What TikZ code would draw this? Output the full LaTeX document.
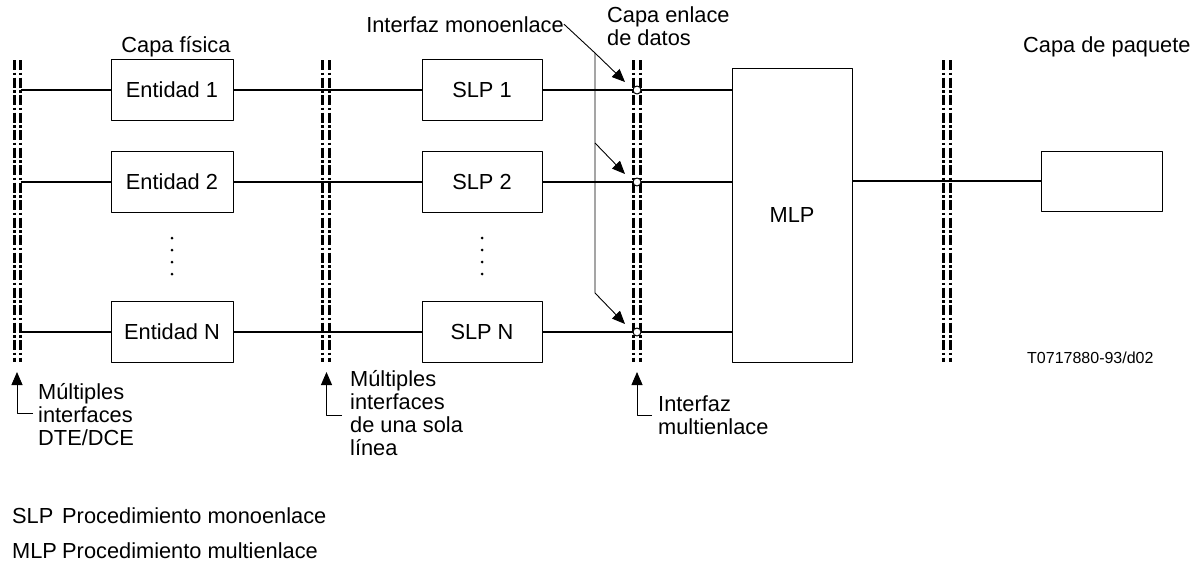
\documentclass[tikz,border=0pt]{standalone}
\usepackage{fontspec}
\setmainfont{Liberation Sans}
\usetikzlibrary{arrows.meta}

\begin{document}
\begin{tikzpicture}[x=1pt,y=-1pt,line join=round,>={Triangle[length=13pt,width=11pt]},
  every node/.style={font=\fontsize{21.8}{23}\selectfont},
  box/.style={draw,line width=1pt,inner sep=0pt},
  wire/.style={line width=1.8pt},
  iface/.style={line width=3pt,line cap=butt,dash pattern=on 10pt off 2.5pt on 2.5pt off 2.5pt},
  lead/.style={line width=0.9pt},
  ring/.style={circle,draw,fill=white,line width=1pt,minimum size=8pt,inner sep=0pt}]

\useasboundingbox (0,0) rectangle (1196,565);

% interfaces
\foreach \xa in {14,322.5,633.5,943.5}{
  \draw[iface] (\xa,60) -- (\xa,362);
  \draw[iface] (\xa+6.8,60) -- (\xa+6.8,362);
}

\node[box,minimum width=120pt,minimum height=294pt] (mlp) at (792,215) {MLP};
\node[box,minimum width=121pt,minimum height=60pt] (pkt) at (1101.5,181) {};
\draw[wire] (mlp.east |- pkt.west) -- (pkt.west);

% rows
\foreach \r/\yy/\lbl in {1/90/1,2/182/2,3/332/N}{
  \node[box,minimum width=122pt,minimum height=61pt] (ent\r) at (172,\yy) {Entidad \lbl};
  \node[box,minimum width=120pt,minimum height=61pt] (slp\r) at (482,\yy) {SLP \lbl};
  \coordinate (in\r) at (20.5,\yy);
  \draw[wire] (in\r) -- (ent\r.west);
  \draw[wire] (ent\r.east) -- (slp\r.west);
  \draw[wire] (slp\r.east) -- (mlp.west |- slp\r.east);
  \node[ring] (ring\r) at (637,\yy) {};
}

\foreach \yy in {238,250,262,274}{
  \fill (172,\yy) circle (1.5pt);
  \fill (482,\yy) circle (1.5pt);
}

% top labels
\node[anchor=base] (fisica) at (176,52) {Capa física};
\node[anchor=base east,inner sep=0pt] (mono) at (564,32) {Interfaz monoenlace};
\node[anchor=north west,align=left,inner sep=0pt] (enlace) at (607,7) {Capa enlace\\de datos};
\node[anchor=base west,inner sep=0pt] (paquete) at (1023,52) {Capa de paquete};

\coordinate (kink1) at (595,53);
\coordinate (kink2) at (595,143);
\coordinate (kink3) at (595,293);
\draw[lead] (mono.east) -- (kink1) -- (kink3);
\foreach \r in {1,2,3}
  \draw[lead,->] (kink\r) -- ([shift={(-12,-8)}]ring\r.center);

% bottom labels
\node[anchor=north west,align=left,inner sep=0pt] (dte) at (38,383) {Múltiples\\interfaces\\DTE/DCE};
\node[anchor=north west,align=left,inner sep=0pt] (sola) at (350,370) {Múltiples\\interfaces\\de una sola\\línea};
\node[anchor=north west,align=left,inner sep=0pt] (multi) at (658,396) {Interfaz\\multienlace};
\coordinate (kneeA) at (33,413);
\coordinate (tipA) at (17,372);
\coordinate (kneeB) at (342,415);
\coordinate (tipB) at (326.5,372);
\coordinate (kneeC) at (652,415);
\coordinate (tipC) at (637,372);
\draw[lead,->] (kneeA) -| (tipA);
\draw[lead,->] (kneeB) -| (tipB);
\draw[lead,->] (kneeC) -| (tipC);

\node[anchor=base west,inner sep=0pt,font=\fontsize{16}{18}\selectfont] (ref) at (1027,363) {T0717880-93/d02};

% legend
\node[anchor=base west,inner sep=0pt] (slpk) at (12,523) {SLP};
\node[anchor=base west,inner sep=0pt] (slpd) at (62,523) {Procedimiento monoenlace};
\node[anchor=base west,inner sep=0pt] (mlpk) at (12,558) {MLP};
\node[anchor=base west,inner sep=0pt] (mlpd) at (62,558) {Procedimiento multienlace};

\end{tikzpicture}
\end{document}
